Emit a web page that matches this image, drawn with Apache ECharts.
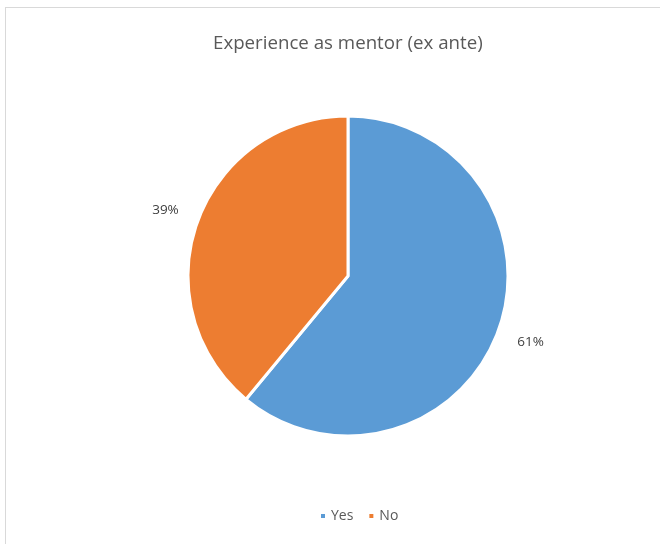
<!DOCTYPE html>
<html>
<head>
<meta charset="utf-8">
<script src="https://cdn.jsdelivr.net/npm/echarts@6/dist/echarts.min.js"></script>
<style>
  html, body { margin: 0; padding: 0; background: #fff; }
  #frame {
    position: absolute; left: 5px; top: 7px; width: 700px; height: 600px;
    border: 1px solid #d9d9d9; box-sizing: border-box;
  }
  #chart { position: absolute; left: 0; top: 0; width: 660px; height: 544px; }
</style>
</head>
<body>
<div id="frame"></div>
<div id="chart"></div>
<script>
const chartTitle = 'Experience as mentor (ex ante)'
const categories = ['Yes', 'No']
const shares = [61, 39]
const colors = ['#5B9BD5', '#ED7D31']

// pie geometry
const cx = 348, cy = 276, radius = 160, labelRadius = 194

const total = shares.reduce((a, b) => a + b, 0)
function midAngle(idx) {
  let before = 0
  for (let i = 0; i < idx; i++) before += shares[i]
  const frac = (before + shares[idx] / 2) / total
  // clockwise from 12 o'clock
  return frac * 2 * Math.PI
}

const chart = echarts.init(document.getElementById('chart'))
chart.setOption({
  animation: false,
  title: {
    text: chartTitle,
    left: 208,
    top: 29,
    textStyle: { fontFamily: 'Open Sans', fontSize: 18.7, fontWeight: 'normal', color: '#595959' }
  },
  legend: {
    data: categories,
    left: 314,
    top: 504,
    icon: 'rect',
    itemWidth: 6,
    itemHeight: 6,
    itemGap: 14,
    textStyle: { fontFamily: 'Open Sans', fontSize: 14, color: '#595959' }
  },
  color: colors,
  series: [{
    type: 'pie',
    center: [cx, cy],
    radius: radius,
    startAngle: 90,
    clockwise: true,
    itemStyle: { borderColor: '#fff', borderWidth: 3 },
    label: {
      show: true,
      position: 'outside',
      formatter: '{c}%',
      fontFamily: 'Open Sans',
      fontSize: 13.5,
      color: '#404040'
    },
    labelLine: { show: false },
    labelLayout: function (params) {
      const a = midAngle(params.dataIndex)
      return {
        x: cx + labelRadius * Math.sin(a),
        y: cy - labelRadius * Math.cos(a),
        align: 'center',
        verticalAlign: 'middle'
      }
    },
    data: categories.map((name, i) => ({ name: name, value: shares[i] }))
  }]
})
</script>
</body>
</html>
